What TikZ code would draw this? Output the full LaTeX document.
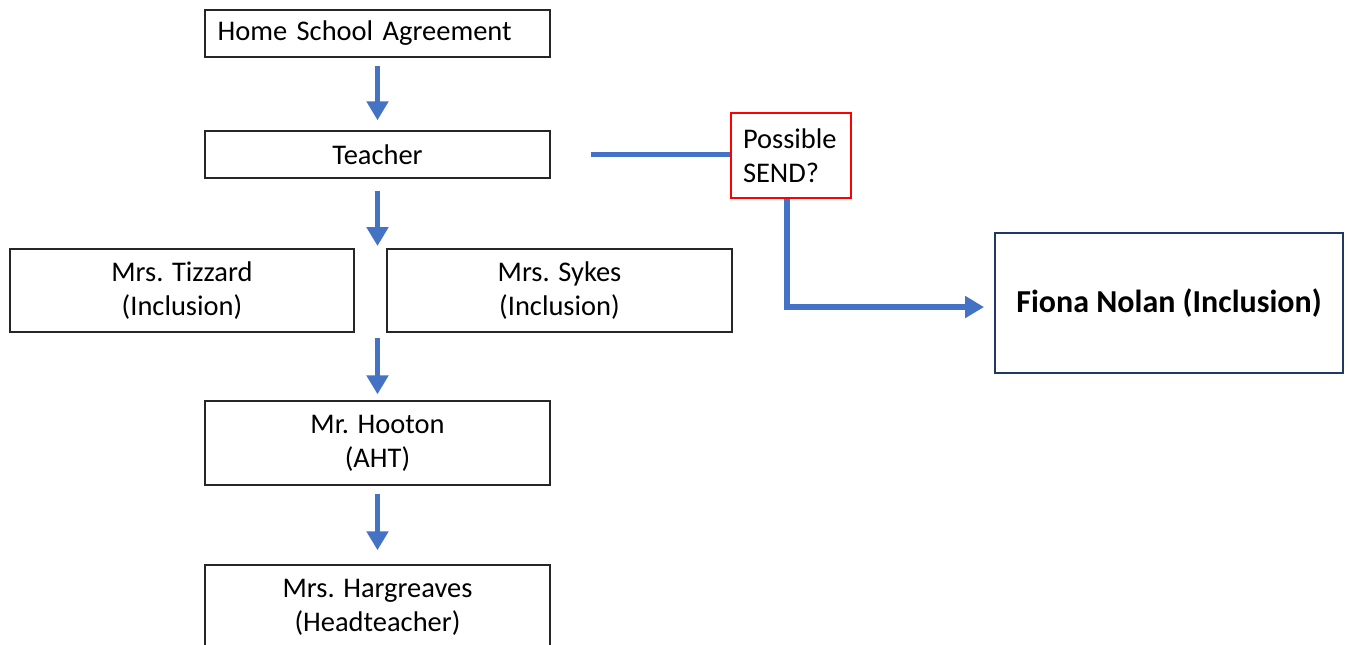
\documentclass[tikz,border=0pt]{standalone}
\usepackage{fontspec}
\setmainfont{Carlito}
\usetikzlibrary{arrows.meta}
\definecolor{flowblue}{RGB}{68,114,196}
\definecolor{navy}{RGB}{31,56,100}

\begin{document}
\begin{tikzpicture}[x=0.02cm, y=-0.02cm, font=\fontsize{16.2}{19.5}\selectfont,
  box/.style={draw=black!85, line width=0.8pt, align=center, inner sep=0pt, minimum width=6.9cm},
  flow/.style={draw=flowblue, line width=3.4pt, -{Triangle[length=10.8pt, width=12pt]}}]
\useasboundingbox (0,0) rectangle (1350,645);
% Main chain
\node[box, minimum height=0.94cm, text width=6.4cm, inner xsep=6.8pt, align=left] (hsa) at (377.5,33.5) {Home School Agreement};
\node[box, minimum height=0.94cm] (teacher) at (377.5,154.5) {Teacher};
\node[box, minimum width=6.88cm, minimum height=1.66cm] (tizzard) at (182,290.5) {Mrs. Tizzard\\(Inclusion)};
\node[box, minimum height=1.66cm] (sykes) at (559.5,290.5) {Mrs. Sykes\\(Inclusion)};
\node[box, minimum height=1.68cm] (hooton) at (377.5,443) {Mr. Hooton\\(AHT)};
\node[box, minimum height=1.68cm] (hargreaves) at (377.5,607) {Mrs. Hargreaves\\(Headteacher)};
\coordinate (gaptop) at (377.5,249);
\coordinate (gapbot) at (377.5,332);
\draw[flow, shorten <=4.5pt, shorten >=5.7pt] (hsa.south) -- (teacher.north);
\draw[flow, shorten <=6.8pt, shorten >=1.7pt] (teacher.south) -- (gaptop);
\draw[flow, shorten <=3.4pt, shorten >=3.4pt] (gapbot) -- (hooton.north);
\draw[flow, shorten <=4.5pt, shorten >=8pt] (hooton.south) -- (hargreaves.north);
% Side branch
\node[draw=red, line width=1.4pt, minimum width=2.4cm, minimum height=1.7cm, inner sep=0pt, inner xsep=6.8pt, text width=1.92cm, align=left] (send) at (791,155.5) {Possible\\SEND?};
\node[draw=navy, line width=1.1pt, minimum width=6.96cm, minimum height=2.8cm, font=\fontsize{18.2}{22}\selectfont\bfseries] (fiona) at (1169,303) {Fiona Nolan (Inclusion)};
\draw[flowblue, line width=3.4pt, shorten <=22.7pt] (teacher.east) -- (send.west |- teacher.east);
\draw[flow, shorten >=5.7pt] ([xshift=-2.3pt]send.south) |- ([yshift=-2.3pt]fiona.west);
\end{tikzpicture}
\end{document}
